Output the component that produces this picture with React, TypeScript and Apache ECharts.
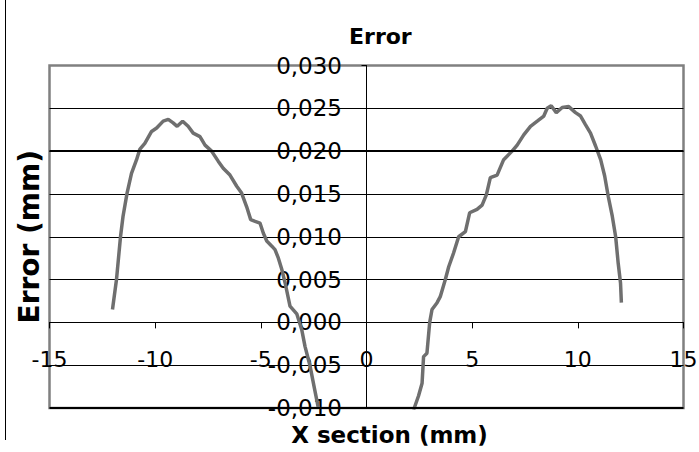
import React, { useEffect, useRef } from "react";
import * as echarts from "echarts";

const chartTitle = "Error";
const xAxisTitle = "X section (mm)";
const yAxisTitle = "Error (mm)";

// Left arch (mm, mm)
const xLeft = [-12.02, -11.83, -11.64, -11.52, -11.33, -11.12, -10.88, -10.73, -10.49, -10.17, -9.93, -9.62, -9.38, -9.15, -8.96, -8.70, -8.44, -8.20, -7.88, -7.64, -7.33, -7.01, -6.78, -6.46, -6.14, -5.91, -5.67, -5.48, -5.27, -5.04, -4.88, -4.72, -4.48, -4.33, -4.17, -4.01, -3.85, -3.62, -3.30, -3.06, -2.91, -2.67, -2.48, -2.27];
const yLeft = [0.0015, 0.0050, 0.0100, 0.0124, 0.0151, 0.0174, 0.0190, 0.0202, 0.0209, 0.0223, 0.0227, 0.0235, 0.0237, 0.0233, 0.0229, 0.0235, 0.0229, 0.0221, 0.0217, 0.0207, 0.0200, 0.0188, 0.0180, 0.0172, 0.0159, 0.0151, 0.0135, 0.0120, 0.0118, 0.0116, 0.0104, 0.0095, 0.0089, 0.0085, 0.0075, 0.0062, 0.0046, 0.0019, 0.0010, -0.0009, -0.0028, -0.0051, -0.0075, -0.0101];

// Right arch
const xRight = [2.23, 2.46, 2.63, 2.70, 2.86, 2.99, 3.10, 3.34, 3.49, 3.73, 3.89, 4.12, 4.36, 4.68, 4.88, 5.23, 5.47, 5.67, 5.86, 6.18, 6.49, 6.89, 7.13, 7.44, 7.76, 8.08, 8.39, 8.55, 8.74, 8.98, 9.26, 9.57, 9.89, 10.13, 10.36, 10.60, 10.84, 11.08, 11.27, 11.44, 11.63, 11.79, 11.91, 12.02, 12.06];
const yRight = [-0.0102, -0.0086, -0.0071, -0.0040, -0.0036, 0.0000, 0.0015, 0.0023, 0.0030, 0.0050, 0.0065, 0.0081, 0.0100, 0.0106, 0.0128, 0.0132, 0.0137, 0.0149, 0.0169, 0.0172, 0.0190, 0.0200, 0.0207, 0.0219, 0.0229, 0.0235, 0.0241, 0.0250, 0.0253, 0.0245, 0.0251, 0.0252, 0.0245, 0.0241, 0.0231, 0.0221, 0.0206, 0.0190, 0.0171, 0.0147, 0.0124, 0.0100, 0.0069, 0.0046, 0.0023];

const xMin = -15;
const xMax = 15;
const xStep = 5;
const yMin = -0.01;
const yMax = 0.03;
const yStep = 0.005;
const heavyGridValues = [0.02, -0.005];

const pairs = (xs: number[], ys: number[]) =>
  xs.slice(0, Math.min(xs.length, ys.length)).map((x, i) => [x, ys[i]]);

export default function App() {
  const ref = useRef<HTMLDivElement>(null);
  useEffect(() => {
    if (!ref.current) return;
    const chart = echarts.init(ref.current, null, { renderer: "svg" });
    const lineStyle = { color: "#6f6f6f", width: 3.5 };
    const font = "DejaVu Sans";
    chart.setOption({
      animation: false,
      backgroundColor: "#ffffff",
      title: {
        text: chartTitle,
        left: 349,
        top: 25,
        padding: 0,
        textStyle: { fontFamily: font, fontWeight: "bold", fontSize: 22, color: "#000" },
      },
      grid: {
        left: 49.5,
        right: 15.5,
        top: 65.5,
        bottom: 44,
        show: true,
        outerBoundsMode: "none",
        containLabel: false,
        borderColor: "#808080",
        borderWidth: 2.5,
        backgroundColor: "transparent",
      },
      xAxis: {
        type: "value",
        min: xMin,
        max: xMax,
        interval: xStep,
        name: xAxisTitle,
        nameLocation: "middle",
        nameGap: 15,
        nameTextStyle: { fontFamily: font, fontWeight: "bold", fontSize: 23, color: "#000", padding: [0, 0, 0, 46] },
        axisLine: { show: true, onZero: true, lineStyle: { color: "#000", width: 1 } },
        axisTick: { show: true, inside: false, length: 6, lineStyle: { color: "#000" } },
        axisLabel: { margin: -60, fontFamily: font, fontSize: 22, color: "#000" },
        splitLine: { show: false },
      },
      yAxis: {
        type: "value",
        min: yMin,
        max: yMax,
        interval: yStep,
        name: yAxisTitle,
        nameLocation: "middle",
        nameGap: 6,
        nameTextStyle: { fontFamily: font, fontWeight: "bold", fontSize: 28, color: "#000" },
        axisLine: { show: true, onZero: true, lineStyle: { color: "#000", width: 1 } },
        axisTick: { show: true, inside: false, length: 5, lineStyle: { color: "#000" } },
        axisLabel: {
          margin: -292.5,
          fontFamily: font,
          fontSize: 23,
          color: "#000",
          formatter: (v: number) => v.toFixed(3).replace(".", ","),
        },
        splitLine: { show: true, showMinLine: false, showMaxLine: false, lineStyle: { color: "#000", width: 1 } },
      },
      graphic: [
        {
          type: "line",
          shape: { x1: 5.5, y1: 0, x2: 5.5, y2: 440 },
          style: { stroke: "#000", lineWidth: 1 },
          silent: true,
        },
      ],
      series: [
        {
          type: "line",
          data: pairs(xLeft, yLeft),
          showSymbol: false,
          symbol: "none",
          lineStyle,
          clip: true,
          markLine: {
            silent: true,
            symbol: "none",
            label: { show: false },
            lineStyle: { color: "#000", width: 2, type: "solid" },
            data: heavyGridValues.map((v) => ({ yAxis: v })),
          },
        },
        {
          type: "line",
          data: pairs(xRight, yRight),
          showSymbol: false,
          symbol: "none",
          lineStyle,
          clip: true,
        },
      ],
    });
    return () => chart.dispose();
  }, []);
  return (
    <div
      ref={ref}
      style={{ position: "fixed", left: 0, top: 0, width: 699, height: 452, background: "#fff" }}
    />
  );
}
